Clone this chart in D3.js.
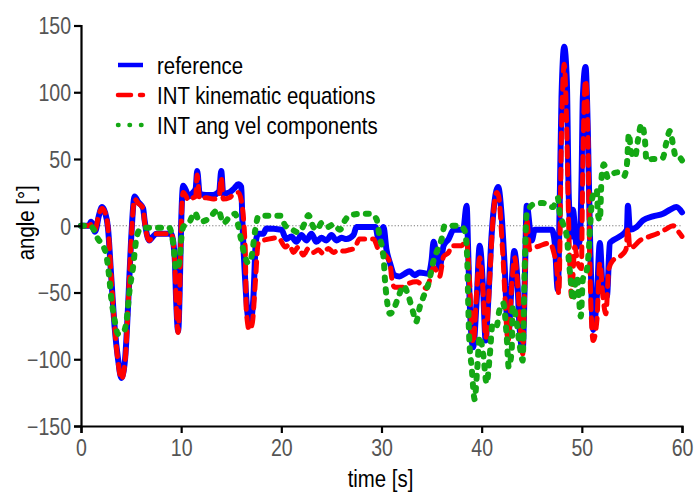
<!DOCTYPE html>
<html>
<head>
<meta charset="utf-8">
<script src="https://cdn.jsdelivr.net/npm/d3@7"></script>
<style>
  html, body { margin: 0; padding: 0; background: #fff; }
  svg { display: block; font-family: "Liberation Sans", Arial, sans-serif; }
</style>
</head>
<body>
<svg id="chart" width="695" height="493"></svg>
<script>
// [time s, angle deg]
const referenceSeries = [
  [0,0],[0.8,0],[1.0,3],[1.4,-4.5],[1.8,8],[2.1,14],[2.4,10],[2.7,-2],[3.0,-36],[3.36,-76],[3.7,-100],[4.03,-114],
  [4.4,-100],[4.7,-60],[5.0,-11],[5.35,22],[5.7,18],[6.2,13],[6.35,4],[6.8,-11],[7.2,-8],[7.5,-6],[9.0,-6],
  [9.35,-23],[9.5,-56],[9.7,-79],[9.85,-50],[10.0,2],[10.2,30],[10.5,26],[10.7,22],[11.2,25],[11.45,28],[11.6,41],
  [11.85,24],[12.5,23],[13.2,23],[13.8,26],[14.0,41],[14.2,24],[14.8,25],[15.3,28],[15.7,31],[16.0,29],[16.1,6],
  [16.37,-38],[16.7,-70],[16.9,-73],[17.2,-55],[17.47,-11],[17.7,-6],[18.2,-6],[18.5,-2],[20.0,-3],[20.5,-10],
  [21.0,-8],[21.5,-12],[22.0,-7],[22.5,-11],[23.0,-6],[23.5,-12],[24.0,-9],[24.5,-11],[25.0,-7],[25.5,-11],
  [26.0,-9],[26.5,-10],[27.2,-7],[27.5,-1],[29.4,-1],[29.7,-10],[30.2,-1],[30.5,-18],[30.85,-28],[31.3,-37],
  [31.8,-38],[32.3,-36],[32.8,-34],[33.3,-37],[33.8,-35],[34.7,-36],[35.0,-26],[35.2,-12],[35.5,-23],[35.8,-31],
  [36.2,-15],[36.7,-10],[37.2,-3],[38.15,-3],[38.5,15],[38.65,-18],[38.8,-56],[39.15,-91],[39.5,-56],[39.8,-15],
  [40.15,-48],[40.4,-86],[40.6,-64],[41.0,-6],[41.3,19],[41.65,29],[42.0,7],[42.3,-31],[42.65,-83],[43.0,-43],
  [43.25,-19],[43.5,-33],[43.8,-78],[44.1,-93],[44.3,-43],[44.5,15],[45.0,-11],[45.3,-3],[47.0,-3],[47.3,-13],
  [47.6,-48],[47.8,21],[47.97,96],[48.24,134],[48.5,109],[48.7,21],[48.97,-8],[49.1,12],[49.5,-16],[49.8,-11],
  [49.97,34],[50.1,96],[50.37,119],[50.6,71],[50.8,-3],[50.97,-53],[51.13,-78],[51.5,-53],[51.8,-13],[52.1,-48],
  [52.5,-53],[52.8,-13],[53.1,-11],[53.8,-8],[54.5,-3],[54.6,15],[54.8,-3],[55.45,-1],[56.1,4],[57.1,7],
  [58.1,9],[58.8,12],[59.45,14],[60,10]
];

const kinematicSeries = [
  [0,0],[0.8,0],[1.0,1],[1.4,-3],[1.8,9],[2.1,13],[2.4,10],[2.7,-2],[3.0,-36],[3.36,-76],[3.7,-102],[4.03,-115],
  [4.4,-102],[4.7,-60],[5.0,-12],[5.35,20],[5.7,17],[6.2,13],[6.35,3],[6.8,-11],[7.2,-8],[7.5,-6],[9.0,-6],
  [9.35,-25],[9.5,-58],[9.7,-80],[9.85,-52],[10.0,0],[10.2,25],[10.5,22],[10.7,19],[11.2,21],[11.45,22],[11.6,38],
  [11.85,20],[12.5,21],[13.2,20],[13.8,22],[14.0,36],[14.2,20],[14.8,21],[15.3,24],[15.7,25],[16.0,19],[16.4,-18],
  [16.5,-63],[16.8,-78],[17.1,-73],[17.4,-43],[17.7,-13],[18.2,-11],[18.7,-10],[19.7,-9],[20.4,-16],[20.8,-14],
  [21.2,-20],[21.7,-16],[22.2,-22],[22.7,-17],[23.2,-20],[23.7,-18],[24.2,-21],[24.7,-17],[25.2,-20],[25.7,-18],
  [26.2,-19],[26.8,-18],[27.3,-17],[27.8,-10],[29.2,-10],[29.7,-18],[30.5,-23],[30.85,-28],[31.0,-38],[31.3,-46],
  [32.2,-46],[32.8,-43],[33.5,-42],[34.0,-44],[34.5,-47],[35.2,-31],[35.5,-34],[35.8,-38],[36.2,-23],[36.7,-20],
  [37.0,-15],[38.0,-15],[38.5,-10],[38.7,-30],[39.15,-88],[39.5,-50],[39.8,-24],[40.15,-50],[40.4,-84],[40.8,-40],
  [41.1,2],[41.5,25],[41.7,22],[42.1,-20],[42.65,-86],[43.0,-45],[43.3,-24],[43.6,-45],[44.1,-96],[44.3,-45],
  [44.5,5],[44.8,-18],[45.1,-17],[45.8,-15],[46.8,-13],[47.2,-20],[47.5,-32],[47.7,-51],[47.97,71],[48.24,121],
  [48.5,71],[48.7,-3],[48.97,-53],[49.3,-16],[49.6,-28],[49.95,-32],[50.1,46],[50.37,109],[50.6,71],[50.8,-28],
  [51.13,-86],[51.5,-71],[51.8,-28],[52.1,-53],[52.4,-66],[52.7,-32],[53.1,-26],[53.8,-23],[54.4,-18],[54.6,-2],
  [54.8,-17],[55.1,-16],[55.8,-11],[56.8,-8],[57.5,-6],[58.3,-3],[59.1,0],[59.8,-6],[60,-8]
];

const angVelSeries = [
  [0,0],[0.9,0],[1.2,-2],[1.7,-10],[2.2,-15],[2.55,-23],[2.85,-41],[3.0,-53],[3.3,-68],[3.7,-81],[4.2,-80],
  [4.55,-71],[4.85,-48],[5.2,-31],[5.5,-11],[5.85,-3],[6.3,-1.5],[8.8,-1.5],[9.2,-13],[9.5,-33],[9.85,-26],
  [10.0,-11],[10.2,-1],[10.85,3],[11.35,10],[11.85,3],[12.7,5],[13.7,12],[14.2,2],[15.0,8],[15.4,9],[15.7,0],
  [16.0,-11],[16.3,-21],[16.7,-28],[17.0,-24],[17.4,-3],[17.7,7],[18.5,7.5],[19.9,7.5],[20.4,0],[21.0,-2.5],
  [21.7,-5],[22.4,3],[22.7,8],[23.2,-1],[23.6,-3],[24.0,2],[24.6,-1],[25.2,1],[25.85,-3],[26.35,4],[26.85,8],
  [28.2,9],[28.9,9],[29.5,5],[29.8,-8],[30.2,-23],[30.35,-41],[30.5,-53],[30.85,-66],[31.3,-61],[31.7,-53],
  [32.2,-45],[32.7,-53],[33.2,-66],[33.45,-72],[33.85,-60],[34.2,-53],[34.7,-43],[35.2,-26],[35.7,-16],[36.0,-10],
  [36.3,0],[37.8,0],[38.3,-3.5],[38.55,-23],[38.65,-56],[38.75,-83],[39.0,-106],[39.3,-130],[39.55,-108],[39.8,-83],
  [40.15,-96],[40.5,-118],[40.8,-98],[41.1,-73],[41.5,-75],[41.75,-64],[42.15,-58],[42.5,-83],[42.7,-106],[43.0,-93],
  [43.1,-60],[43.5,-73],[43.8,-90],[44.1,-101],[44.2,-68],[44.3,-31],[44.5,9],[45.15,16],[46.1,17],[47.1,14],
  [47.6,21],[47.8,9],[48.1,2],[48.5,-8],[48.7,-26],[48.97,-46],[49.1,-56],[49.5,-38],[49.7,-53],[49.9,-68],
  [50.1,-40],[50.5,-33],[50.7,-18],[50.85,2],[51.05,21],[51.5,27],[51.6,9],[51.8,4],[51.97,36],[52.2,46],
  [52.6,36],[53.1,39],[53.6,40],[54.2,37],[54.5,46],[54.7,69],[54.9,56],[55.3,51],[55.6,64],[55.95,76],
  [56.3,64],[56.45,49],[57.1,50],[57.6,50],[58.1,51],[58.4,61],[58.8,71],[59.1,61],[59.4,51],[59.75,51],[60,49]
];

const xTicks = [0, 10, 20, 30, 40, 50, 60];
const yTicks = [-150, -100, -50, 0, 50, 100, 150];
const legendLabels = ['reference', 'INT kinematic equations', 'INT ang vel components'];

const svg = d3.select('#chart');
const MARGIN = { top: 25.5, right: 13, bottom: 67, left: 81 };
const WIDTH = 695 - MARGIN.left - MARGIN.right;
const HEIGHT = 493 - MARGIN.top - MARGIN.bottom;
const SQUEEZE = 0.85; // the original lettering is horizontally condensed

const STYLES = [
  { color: '#0000ff', width: 6, dash: null },
  { color: '#ff0000', width: 5, dash: '10,8' },
  { color: '#14a814', width: 6, dash: '3,9' }
];

const g = svg.append('g').attr('transform', `translate(${MARGIN.left},${MARGIN.top})`);

const x = d3.scaleLinear().domain([0, 60]).range([0, WIDTH]);
const y = d3.scaleLinear().domain([-150, 150]).range([HEIGHT, 0]);

// zero reference line
g.append('line')
  .attr('x1', x(0)).attr('x2', x(60)).attr('y1', y(0)).attr('y2', y(0))
  .attr('stroke', '#777').attr('stroke-width', 1).attr('stroke-dasharray', '1.2,2');

const line = d3.line().x(d => x(d[0])).y(d => y(d[1])).curve(d3.curveMonotoneX);

[referenceSeries, kinematicSeries, angVelSeries].forEach((series, i) => {
  const s = STYLES[i];
  g.append('path')
    .datum(series)
    .attr('d', line)
    .attr('fill', 'none')
    .attr('stroke', s.color)
    .attr('stroke-width', s.width)
    .attr('stroke-linejoin', 'round')
    .attr('stroke-linecap', 'round')
    .attr('stroke-dasharray', s.dash);
});

// axes
const xAxis = g.append('g')
  .attr('transform', `translate(0,${HEIGHT})`)
  .call(d3.axisBottom(x).tickValues(xTicks).tickSize(7).tickPadding(6).tickFormat(d3.format('d')));
const yAxis = g.append('g')
  .call(d3.axisLeft(y).tickValues(yTicks).tickSize(7).tickPadding(3).tickFormat(d3.format('d')));

[xAxis, yAxis].forEach(ax => {
  ax.select('.domain').attr('stroke', '#000').attr('stroke-width', 2.2);
  ax.selectAll('.tick line').attr('stroke', '#000').attr('stroke-width', 2.2);
  ax.selectAll('.tick text')
    .attr('fill', '#555')
    .style('font-family', '"Liberation Sans", Arial, sans-serif')
    .style('font-size', '23px');
});
yAxis.selectAll('.tick text')
  .attr('dy', '0.36em')
  .attr('x', -10 / SQUEEZE)
  .attr('transform', `scale(${SQUEEZE},1)`);
xAxis.selectAll('.tick text')
  .attr('dy', '0.72em')
  .attr('transform', `scale(${SQUEEZE},1)`);

// axis titles
svg.append('text')
  .attr('transform', `translate(${MARGIN.left + WIDTH / 2 - 1},487) scale(${SQUEEZE},1)`)
  .attr('text-anchor', 'middle')
  .style('font-size', '24px').attr('fill', '#000')
  .text('time [s]');

svg.append('text')
  .attr('transform', `translate(34,${MARGIN.top + HEIGHT / 2 - 3}) rotate(-90) scale(${SQUEEZE},1)`)
  .attr('text-anchor', 'middle')
  .style('font-size', '24px').attr('fill', '#000')
  .text('angle [°]');

// legend
const legend = svg.append('g').attr('transform', 'translate(118,65)');
legendLabels.forEach((label, i) => {
  const s = STYLES[i];
  const row = legend.append('g').attr('transform', `translate(0,${i * 30})`);
  row.append('line')
    .attr('x1', 0).attr('x2', 25).attr('y1', 0).attr('y2', 0)
    .attr('stroke', s.color)
    .attr('stroke-width', 4.5)
    .attr('stroke-linecap', i === 0 ? 'butt' : 'round')
    .attr('stroke-dasharray', i === 1 ? '13,9' : (i === 2 ? '0.5,11' : null));
  row.append('text')
    .attr('transform', `translate(39,0) scale(${SQUEEZE},1)`)
    .attr('dy', '0.36em')
    .style('font-size', '24px').attr('fill', '#000')
    .text(label);
});
</script>
</body>
</html>
